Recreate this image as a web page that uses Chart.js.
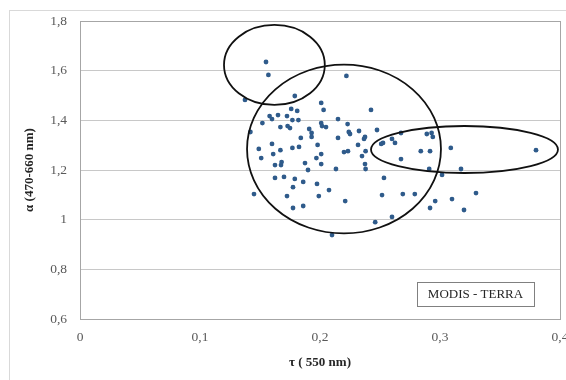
<!DOCTYPE html>
<html><head><meta charset="utf-8">
<script src="https://cdn.jsdelivr.net/npm/chart.js@4/dist/chart.umd.min.js"></script>
<style>html,body{margin:0;padding:0;background:#fff;}#wrap{width:566px;height:380px;position:relative}</style>
</head><body><div id="wrap"><canvas id="c" width="566" height="380"></canvas></div>
<script>
// τ (550 nm) values
const tau = [0.155,0.157,0.1375,0.179,0.201,0.203,0.176,0.181,0.158,0.165,0.1725,0.160,0.177,0.182,0.152,0.167,0.173,0.175,0.201,0.2017,0.205,0.191,0.222,0.2425,0.215,0.223,0.142,0.193,0.184,0.160,0.149,0.177,0.1825,0.167,0.161,0.151,0.168,0.1675,0.1625,0.1875,0.190,0.1625,0.170,0.179,0.186,0.1775,0.145,0.1725,0.1775,0.186,0.193,0.215,0.224,0.225,0.2325,0.2475,0.2367,0.2375,0.260,0.251,0.2525,0.2625,0.198,0.2317,0.220,0.2233,0.201,0.197,0.238,0.235,0.201,0.2375,0.2133,0.238,0.2533,0.1975,0.2075,0.2517,0.199,0.221,0.246,0.260,0.210,0.2675,0.289,0.293,0.294,0.284,0.2917,0.309,0.380,0.2675,0.291,0.3175,0.3017,0.269,0.279,0.330,0.296,0.310,0.2917,0.320];
// α (470-660 nm) values
const alpha = [1.635,1.583,1.482,1.498,1.470,1.442,1.446,1.438,1.417,1.421,1.417,1.405,1.401,1.401,1.389,1.373,1.377,1.369,1.389,1.377,1.373,1.365,1.579,1.442,1.405,1.385,1.353,1.349,1.329,1.305,1.285,1.289,1.293,1.280,1.264,1.248,1.232,1.220,1.220,1.228,1.200,1.168,1.172,1.164,1.152,1.131,1.103,1.095,1.047,1.055,1.333,1.329,1.353,1.345,1.357,1.361,1.325,1.333,1.325,1.305,1.309,1.309,1.301,1.301,1.272,1.276,1.264,1.248,1.276,1.256,1.224,1.224,1.204,1.204,1.168,1.144,1.119,1.099,1.095,1.075,0.990,1.011,0.938,1.349,1.345,1.349,1.333,1.276,1.276,1.289,1.280,1.244,1.204,1.204,1.180,1.103,1.103,1.107,1.075,1.083,1.047,1.039];
const xTicks = [0, 0.1, 0.2, 0.3, 0.4];
const yTicks = [0.6, 0.8, 1.0, 1.2, 1.4, 1.6, 1.8];
// highlighted groups (ellipses in data units)
const ellipseCx = [0.162, 0.220, 0.3204];
const ellipseCy = [1.623, 1.2845, 1.2825];
const ellipseRx = [0.042, 0.0808, 0.0779];
const ellipseRy = [0.161, 0.340, 0.0946];
const boxLabel = 'MODIS - TERRA';

const fmt = v => { const r = Math.round(v*10)/10; return String(r).replace('.', ','); };

const points = tau.map((t,i)=>({x:t, y:alpha[i]}));

const framePlugin = {
  id: 'frame',
  beforeDraw(chart) {
    const ctx = chart.ctx;
    ctx.save();
    ctx.fillStyle = '#fff';
    ctx.fillRect(0,0,chart.width,chart.height);
    ctx.strokeStyle = '#d9d9d9';
    ctx.lineWidth = 1;
    ctx.strokeRect(9.5, 10.5, 560, 372);
    ctx.restore();
  },
  afterDraw(chart) {
    const {ctx, chartArea: a, scales} = chart;
    ctx.save();
    ctx.strokeStyle = '#a6a6a6';
    ctx.lineWidth = 1;
    ctx.strokeRect(Math.round(a.left)+0.5, Math.round(a.top)+0.5, Math.round(a.right-a.left), Math.round(a.bottom-a.top));
    // ellipses
    ctx.strokeStyle = '#111';
    ctx.lineWidth = 1.8;
    for (let i=0;i<ellipseCx.length;i++){
      const cx = scales.x.getPixelForValue(ellipseCx[i]);
      const cy = scales.y.getPixelForValue(ellipseCy[i]);
      const rx = Math.abs(scales.x.getPixelForValue(ellipseCx[i]+ellipseRx[i]) - cx);
      const ry = Math.abs(scales.y.getPixelForValue(ellipseCy[i]+ellipseRy[i]) - cy);
      ctx.beginPath();
      ctx.ellipse(cx, cy, rx, ry, 0, 0, Math.PI*2);
      ctx.stroke();
    }
    // label box
    const bx = Math.round(a.right) - 143, by = Math.round(a.bottom) - 37;
    ctx.fillStyle = '#fff';
    ctx.fillRect(bx, by, 117, 24);
    ctx.strokeStyle = '#808080';
    ctx.lineWidth = 1;
    ctx.strokeRect(bx+0.5, by+0.5, 117, 24);
    ctx.fillStyle = '#262626';
    ctx.font = '13px "Liberation Serif"';
    ctx.textAlign = 'center';
    ctx.textBaseline = 'middle';
    ctx.fillText(boxLabel, bx + 58.5, by + 13);
    ctx.restore();
  }
};

new Chart(document.getElementById('c'), {
  type: 'scatter',
  data: { datasets: [{ data: points, backgroundColor: '#2f5b8b', borderColor: '#2f5b8b', borderWidth: 0, pointRadius: 2.4 }] },
  options: {
    responsive: false, animation: false, devicePixelRatio: 1,
    layout: { padding: { left: 10, top: 21, right: 6, bottom: 0 } },
    plugins: { legend: { display: false }, tooltip: { enabled: false } },
    scales: {
      x: {
        type: 'linear', min: 0, max: 0.4,
        afterBuildTicks: s => { s.ticks = xTicks.map(v => ({value: v})); },
        afterFit: s => { s.height = 61; s.paddingLeft = 0; s.paddingRight = 0; },
        grid: { display: false, drawTicks: false },
        border: { display: false },
        ticks: { padding: 10, color: '#595959', font: { family: 'Liberation Serif', size: 13.5 }, callback: v => fmt(v), maxRotation: 0 },
        title: { display: true, text: 'τ ( 550 nm)', color: '#262626', font: { family: 'Liberation Serif', size: 13, weight: 'bold' }, padding: { top: 0, bottom: 10 } }
      },
      y: {
        type: 'linear', min: 0.6, max: 1.8,
        afterBuildTicks: s => { s.ticks = yTicks.map(v => ({value: v})); },
        afterFit: s => { s.width = 70; s.paddingTop = 0; s.paddingBottom = 0; },
        grid: { color: '#c8c8c8', drawTicks: false, lineWidth: 1 },
        border: { display: false },
        ticks: { padding: 13, color: '#595959', font: { family: 'Liberation Serif', size: 13.5 }, callback: v => fmt(v) },
        title: { display: true, text: 'α (470-660 nm)', color: '#262626', font: { family: 'Liberation Serif', size: 13, weight: 'bold' }, padding: { top: 12, bottom: 0 } }
      }
    }
  },
  plugins: [framePlugin]
});
</script>
</body></html>
